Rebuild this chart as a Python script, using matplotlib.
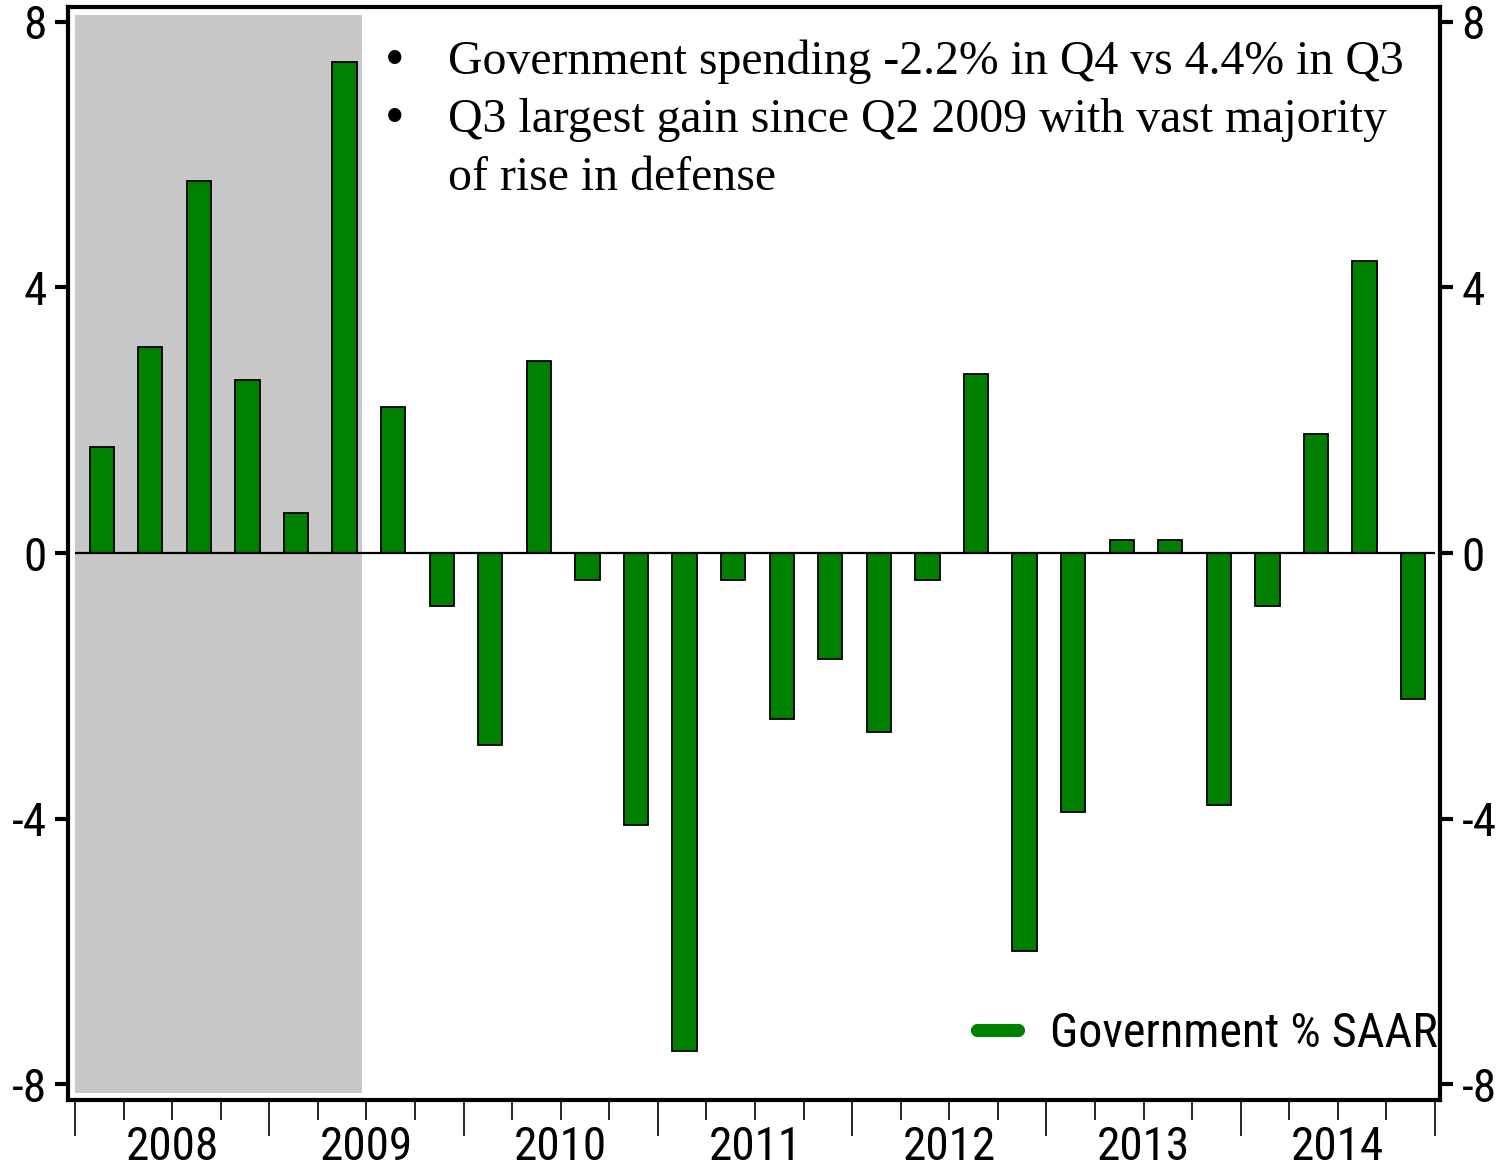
import numpy as np
import matplotlib.pyplot as plt
from matplotlib.lines import Line2D
import matplotlib.transforms as mtransforms

# quarterly real government spending, % SAAR, 2008Q1 .. 2014Q4
years = ["2008", "2009", "2010", "2011", "2012", "2013", "2014"]
gov_saar = [
    1.6, 3.1, 5.6, 2.6,      # 2008
    0.6, 7.4, 2.2, -0.8,     # 2009
    -2.9, 2.9, -0.4, -4.1,   # 2010
    -7.5, -0.4, -2.5, -1.6,  # 2011
    -2.7, -0.4, 2.7, -6.0,   # 2012
    -3.9, 0.2, 0.2, -3.8,    # 2013
    -0.8, 1.8, 4.4, -2.2,    # 2014
]
recession_quarters = 6       # 2008Q1 .. 2009Q2

notes = [
    ("\u2022", "Government spending -2.2% in Q4 vs 4.4% in Q3"),
    ("\u2022", "Q3 largest gain since Q2 2009 with vast majority"),
    ("", "of rise in defense"),
]

GREEN = "#008000"
narrow = ["Roboto Condensed", "Liberation Sans Narrow", "Liberation Sans"]
serif = ["Liberation Serif", "DejaVu Serif"]

fig = plt.figure(figsize=(15.08, 11.66), dpi=100)
ax = fig.add_axes([0.0454, 0.0566, 0.9095, 0.9374])

x = np.arange(len(gov_saar))

ax.axvspan(-0.5, recession_quarters - 0.6, ymin=0.006, ymax=0.993,
           color="#c8c8c8", lw=0, zorder=0)
ax.bar(x + 0.05, gov_saar, width=0.5, color=GREEN, edgecolor="black",
       linewidth=1.3, zorder=2)
ax.hlines(0, -0.5, len(gov_saar) - 0.5, color="black", lw=1.6, zorder=3)

ax.set_xlim(-0.634, 27.603)
ax.set_ylim(-8.241, 8.226)

for s in ax.spines.values():
    s.set_linewidth(3.0)

# y axis on both sides
ax.set_yticks([-8, -4, 0, 4, 8])
ax.set_yticklabels(["-8", "-4", "0", "4", "8"])
ax.tick_params(axis="y", which="both", direction="out", length=9.5,
               width=3.0, pad=6, left=True, right=True,
               labelleft=True, labelright=True, labelsize=34)
for lab in ax.get_yticklabels():
    lab.set_family(narrow)

# quarters as short ticks, year boundaries as long ticks
ax.set_xticks(np.arange(-0.5, len(gov_saar), 4))
ax.set_xticks(np.arange(-0.5, len(gov_saar), 1), minor=True)
ax.tick_params(axis="x", which="major", direction="out", length=26,
               width=1.2, labelbottom=False)
ax.tick_params(axis="x", which="minor", direction="out", length=14.5,
               width=1.2)

trans = mtransforms.blended_transform_factory(ax.transData, ax.transAxes)
for i, yr in enumerate(years):
    ax.text(4 * i + 1.5, -0.043, yr, transform=trans, ha="center",
            va="center", fontsize=34, family=narrow)

# bullet notes
for k, (bullet, line) in enumerate(notes):
    yy = 0.9497 - k * 0.0531
    if bullet:
        ax.text(0.2375, yy, bullet, transform=ax.transAxes, ha="center",
                va="center", fontsize=40, family=serif)
    ax.text(0.277, yy, line, transform=ax.transAxes, ha="left",
            va="center", fontsize=34.4, family=serif)

handle = Line2D([], [], color=GREEN, lw=9.5, solid_capstyle="round")
leg = ax.legend([handle], ["Government % SAAR"], loc="lower right",
                bbox_to_anchor=(1.03, 0.0), frameon=False,
                handlelength=0.85, handletextpad=0.67,
                prop={"family": narrow, "size": 34.6})

fig.savefig("out.png", dpi=100)
